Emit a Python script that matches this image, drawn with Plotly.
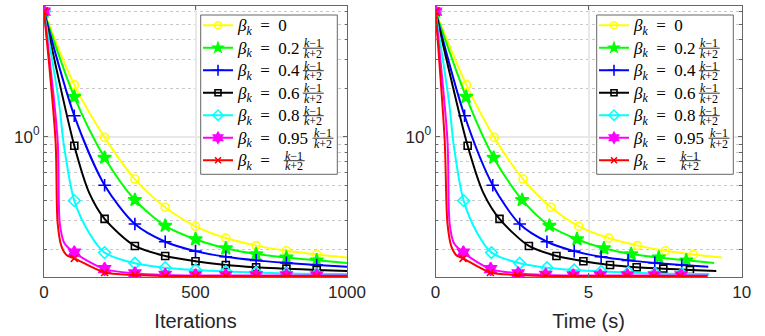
import numpy as np
import plotly.graph_objects as go

W, H = 765, 336

# iterations and objective values; times off the right panel
it_y = [0, 100, 200, 300, 400, 500, 600, 700, 800, 900, 1000]
val_y = [6.0, 2.10, 0.99, 0.545, 0.364, 0.277, 0.234, 0.210, 0.195, 0.185, 0.177]
t_y = [0, 1.01, 1.92, 2.86, 3.77, 4.68, 5.66, 6.60, 7.51, 8.42, 9.35]

it_g = [0, 100, 200, 300, 400, 500, 600, 700, 800, 900, 1000]
val_g = [6.0, 1.77, 0.740, 0.404, 0.279, 0.230, 0.202, 0.186, 0.177, 0.170, 0.164]
t_g = [0, 1.00, 1.90, 2.83, 3.72, 4.62, 5.50, 6.39, 7.29, 8.19, 9.10]

it_b = [0, 100, 200, 300, 400, 500, 600, 700, 800, 900, 1000]
val_b = [6.0, 1.35, 0.499, 0.286, 0.222, 0.194, 0.179, 0.170, 0.164, 0.159, 0.155]
t_b = [0, 0.95, 1.87, 2.75, 3.64, 4.53, 5.41, 6.29, 7.16, 8.04, 8.91]

it_k = [0, 100, 150, 200, 300, 400, 500, 600, 700, 800, 900, 1000]
val_k = [6.0, 0.879, 0.444, 0.308, 0.209, 0.181, 0.168, 0.159, 0.154, 0.151, 0.148, 0.146]
t_k = [0, 1.05, 1.57, 2.09, 3.05, 3.95, 4.83, 5.70, 6.57, 7.44, 8.31, 9.17]

it_c = [0, 50, 65, 100, 150, 200, 300, 400, 500, 600, 700, 800, 900, 1000]
val_c = [6.0, 1.6, 0.9, 0.40, 0.25, 0.19, 0.163, 0.153, 0.148, 0.145, 0.143, 0.141, 0.140, 0.140]
t_c = [0, 0.45, 0.59, 0.92, 1.37, 1.83, 2.75, 3.64, 4.53, 5.41, 6.30, 7.17, 8.04, 8.94]

it_m = [0, 45, 52, 67, 100, 200, 300, 400, 500, 600, 700, 800, 900, 1000]
val_m = [6.0, 0.95, 0.29, 0.218, 0.19, 0.150, 0.141, 0.138, 0.137, 0.137, 0.137, 0.137, 0.137, 0.137]
t_m = [0, 0.39, 0.46, 0.60, 0.91, 1.80, 2.70, 3.60, 4.50, 5.38, 6.27, 7.15, 8.02, 8.91]

it_r = [0, 38, 45, 58, 75, 100, 200, 300, 400, 500, 600, 700, 800, 900, 1000]
val_r = [6.0, 0.95, 0.29, 0.207, 0.183, 0.175, 0.143, 0.138, 0.136, 0.136, 0.136, 0.136, 0.136, 0.136, 0.136]
t_r = [0, 0.30, 0.39, 0.52, 0.68, 0.90, 1.79, 2.68, 3.59, 4.49, 5.38, 6.25, 7.14, 7.99, 8.88]

coefs = ["0", "0.2", "0.4", "0.6", "0.8", "0.95", ""]

SERIES = [
    (it_y, val_y, t_y, "#FFFF00", "circle-open", 8, 7),
    (it_g, val_g, t_g, "#00FF00", "star", 10, 7),
    (it_b, val_b, t_b, "#0000FF", "cross-thin-open", 9, 8),
    (it_k, val_k, t_k, "#000000", "square-open", 7, 6),
    (it_c, val_c, t_c, "#00FFFF", "diamond-open", 9, 8),
    (it_m, val_m, t_m, "#FF00FF", "hexagram", 10, 8),
    (it_r, val_r, t_r, "#FF0000", "x-thin-open", 7, 6),
]


def px_x(p):
    return p / W


def px_y(p):
    return 1 - p / H


fig = go.Figure()

for i, (it, val, tm, color, sym, size, lsize) in enumerate(SERIES):
    it = np.array(it)
    val = np.array(val)
    tm = np.array(tm)
    mk = (it % 100 == 0) & (it < 1000)
    mline = dict(color=color, width=1.6)
    for xs, xa, ya, lg in [(it, "x", "y", "legend"), (tm, "x2", "y2", "legend2")]:
        fig.add_trace(go.Scatter(
            x=xs, y=val, mode="lines", xaxis=xa, yaxis=ya,
            line=dict(color=color, width=2, shape="spline", smoothing=0.8),
            showlegend=False, hoverinfo="skip"))
        fig.add_trace(go.Scatter(
            x=xs[mk], y=val[mk], mode="markers", xaxis=xa, yaxis=ya,
            marker=dict(symbol=sym, size=size, color=color, line=mline),
            showlegend=False, hoverinfo="skip"))
        name = ('<span style="font-size:17px"><i>β</i><sub><i>k</i></sub>'
                "\u2002=\u2002" + coefs[i] + "</span>")
        fig.add_trace(go.Scatter(
            x=[None], y=[None], mode="lines+markers", xaxis=xa, yaxis=ya,
            line=dict(color=color, width=2),
            marker=dict(symbol=sym, size=lsize, color=color, line=mline),
            name=name, legend=lg, legendgroup=lg + str(i)))

axis_common = dict(
    showline=True, linecolor="#666", linewidth=1, mirror="allticks",
    ticks="inside", ticklen=4, tickcolor="#666", zeroline=False, automargin=False,
    tickfont=dict(family="Liberation Sans", size=17, color="#262626"),
)

minor_vals = [0.2, 0.3, 0.4, 0.5, 0.6, 0.7, 0.8, 0.9, 2, 3, 4, 5, 6]
yaxis_common = dict(
    axis_common, type="log", range=[-0.873, 0.813],
    tickvals=[1], ticktext=["10<sup>0</sup>"],
    showgrid=True, gridcolor="#e8e8e8", gridwidth=1.5,
    minor=dict(tickvals=minor_vals, ticks="inside", ticklen=2.5, tickcolor="#666",
               showgrid=True, gridcolor="#c8c8c8", griddash="dot", gridwidth=1),
)

title_font = dict(family="Liberation Sans", size=20, color="#262626")

fig.update_layout(
    width=W, height=H,
    paper_bgcolor="white", plot_bgcolor="white",
    margin=dict(l=0, r=0, t=0, b=0, autoexpand=False),
    xaxis=dict(axis_common, domain=[44 / W, 347 / W], range=[0, 1000],
               tickvals=[0, 500, 1000], showgrid=True, gridcolor="#e8e8e8", gridwidth=1.5,
               title=dict(text="Iterations", font=title_font, standoff=12), anchor="y"),
    yaxis=dict(yaxis_common, domain=[1 - 277 / H, 1 - 6 / H], anchor="x"),
    xaxis2=dict(axis_common, domain=[435.5 / W, 741.7 / W], range=[0, 10],
                tickvals=[0, 5, 10], showgrid=True, gridcolor="#e8e8e8", gridwidth=1.5,
                title=dict(text="Time (s)", font=title_font, standoff=12), anchor="y2"),
    yaxis2=dict(yaxis_common, domain=[1 - 277 / H, 1 - 6 / H], anchor="x2"),
)

legend_style = dict(
    font=dict(family="Liberation Serif", size=15, color="#000"),
    bgcolor="rgba(0,0,0,0)", borderwidth=0, tracegroupgap=0,
    xanchor="left", yanchor="top", itemwidth=30,
)

shapes = []
annotations = []
for off, lg in [(0, "legend"), (396, "legend2")]:
    fig.update_layout({lg: dict(legend_style, x=px_x(198 + off), y=px_y(9))})
    shapes.append(dict(type="rect", xref="paper", yref="paper", layer="above",
                       x0=px_x(200.7 + off), x1=px_x(337.3 + off), y0=px_y(174.3), y1=px_y(15),
                       fillcolor="white", line=dict(color="#666", width=1)))
    for i, c in enumerate(coefs):
        if i == 0:
            continue
        yc = 26.7 + 22.5 * i
        if c == "0.95":
            xc = 323
        elif c == "":
            xc = 294.2
        else:
            xc = 313.3
        xc += off
        ffont = dict(family="Liberation Serif", size=12, color="#000")
        annotations.append(dict(xref="paper", yref="paper", x=px_x(xc), y=px_y(yc - 6),
                                text="<i>k</i>−1", showarrow=False, font=ffont,
                                xanchor="center", yanchor="middle"))
        annotations.append(dict(xref="paper", yref="paper", x=px_x(xc), y=px_y(yc + 4.5),
                                text="<i>k</i>+2", showarrow=False, font=ffont,
                                xanchor="center", yanchor="middle"))
        shapes.append(dict(type="line", xref="paper", yref="paper", layer="above",
                           x0=px_x(xc - 10.5), x1=px_x(xc + 10.5), y0=px_y(yc - 1), y1=px_y(yc - 1),
                           line=dict(color="#000", width=0.8)))

fig.update_layout(shapes=shapes, annotations=annotations)

fig.write_html("out.html", config={"displayModeBar": False},
               post_script="document.body.style.margin = '0px';")
